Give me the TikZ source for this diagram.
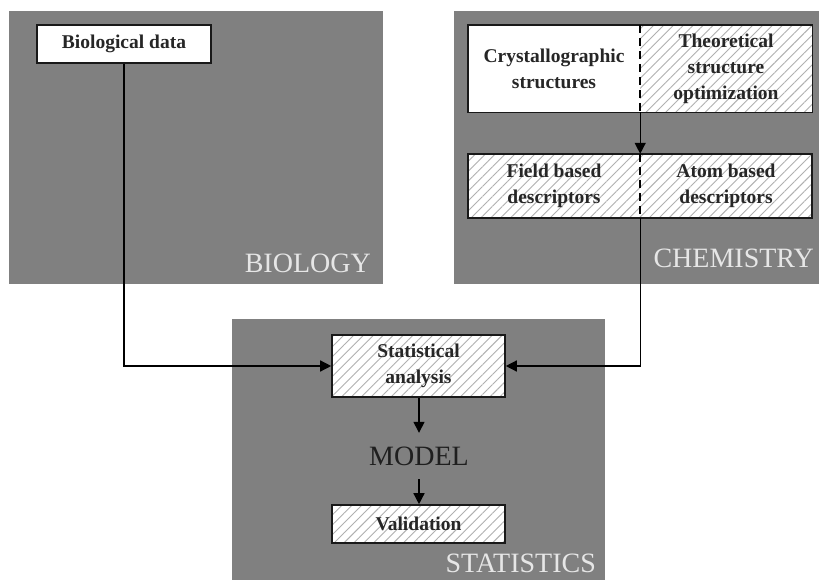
\documentclass[tikz,border=0pt]{standalone}
\usepackage{fontspec}
\setmainfont{Liberation Serif}
\usetikzlibrary{patterns.meta,arrows.meta}
\definecolor{panel}{HTML}{808080}
\definecolor{paneltext}{HTML}{E6E6E6}
\definecolor{hatch}{HTML}{B0B0B0}
\tikzset{
  panelbox/.style={fill=panel,draw=none},
  boxtext/.style={font=\fontsize{19.5}{26}\selectfont\bfseries,align=center,inner sep=0pt,text=black!85},
  plainbox/.style={boxtext,draw=black!90,line width=1.6pt,fill=white},
  hatchbox/.style={boxtext,draw=black!90,line width=1.6pt,preaction={fill=white},pattern={Lines[angle=45,distance=7pt,line width=0.9pt]},pattern color=hatch},
  halfbox/.style={boxtext,draw=none,fill=white},
  halfhatch/.style={boxtext,draw=none,preaction={fill=white},pattern={Lines[angle=45,distance=7pt,line width=0.9pt]},pattern color=hatch},
  paneltitle/.style={font=\fontsize{28}{30}\selectfont,text=paneltext,inner sep=0pt,anchor=base east},
  divider/.style={line width=1.5pt,dash pattern=on 8pt off 5pt},
  conn/.style={line width=1.4pt,draw=black},
  arr/.style={conn,-{Triangle[length=11pt,width=11pt]}}
}
\begin{document}
\begin{tikzpicture}[x=1pt,y=-1pt]
\useasboundingbox (0,0) rectangle (819,580);
\fill[white] (0,0) rectangle (819,580);
% panels
\fill[panelbox] (9,11) rectangle (383,284);
\fill[panelbox] (454,11) rectangle (819,284);
\fill[panelbox] (232,319) rectangle (605,580);
% biology
\node[plainbox,minimum width=174pt,minimum height=38pt] (bio) at (124,44) {Biological data};
\node[paneltitle] (biot) at (371,272) {BIOLOGY};
% chemistry
\node[halfbox,minimum width=172pt,minimum height=87pt] (cryst) at (554,68.5) {Crystallographic\\structures};
\node[halfhatch,minimum width=172pt,minimum height=87pt] (theo) at (726,68.5) {Theoretical\\structure\\optimization};
\draw[line width=1.6pt,black!90] (cryst.north west) rectangle (theo.south east);
\draw[divider] (cryst.north east) -- (cryst.south east);
\node[halfhatch,minimum width=172pt,minimum height=64pt] (field) at (554,186) {Field based\\descriptors};
\node[halfhatch,minimum width=172pt,minimum height=64pt] (atom) at (726,186) {Atom based\\descriptors};
\draw[line width=1.6pt,black!90] (field.north west) rectangle (atom.south east);
\draw[divider] (field.north east) -- (field.south east);
\node[paneltitle] (chemt) at (814,267) {CHEMISTRY};
% statistics
\node[hatchbox,minimum width=173pt,minimum height=62pt] (stat) at (418.5,366) {Statistical\\analysis};
\node[font=\fontsize{28}{30}\selectfont,text=black!88,inner sep=0pt,minimum height=46pt] (model) at (419,456) {MODEL};
\node[hatchbox,minimum width=173pt,minimum height=38pt] (valid) at (418.5,524) {Validation};
\node[paneltitle] (statt) at (596,572) {STATISTICS};
% connectors
\draw[arr] (cryst.south east) -- (field.north east);
\draw[arr] (bio.south) |- (stat.west);
\draw[arr] (field.south east) |- (stat.east);
\draw[arr] (stat.south -| model) -- (model.north);
\draw[arr] (model.south) -- (valid.north -| model);
\end{tikzpicture}
\end{document}
